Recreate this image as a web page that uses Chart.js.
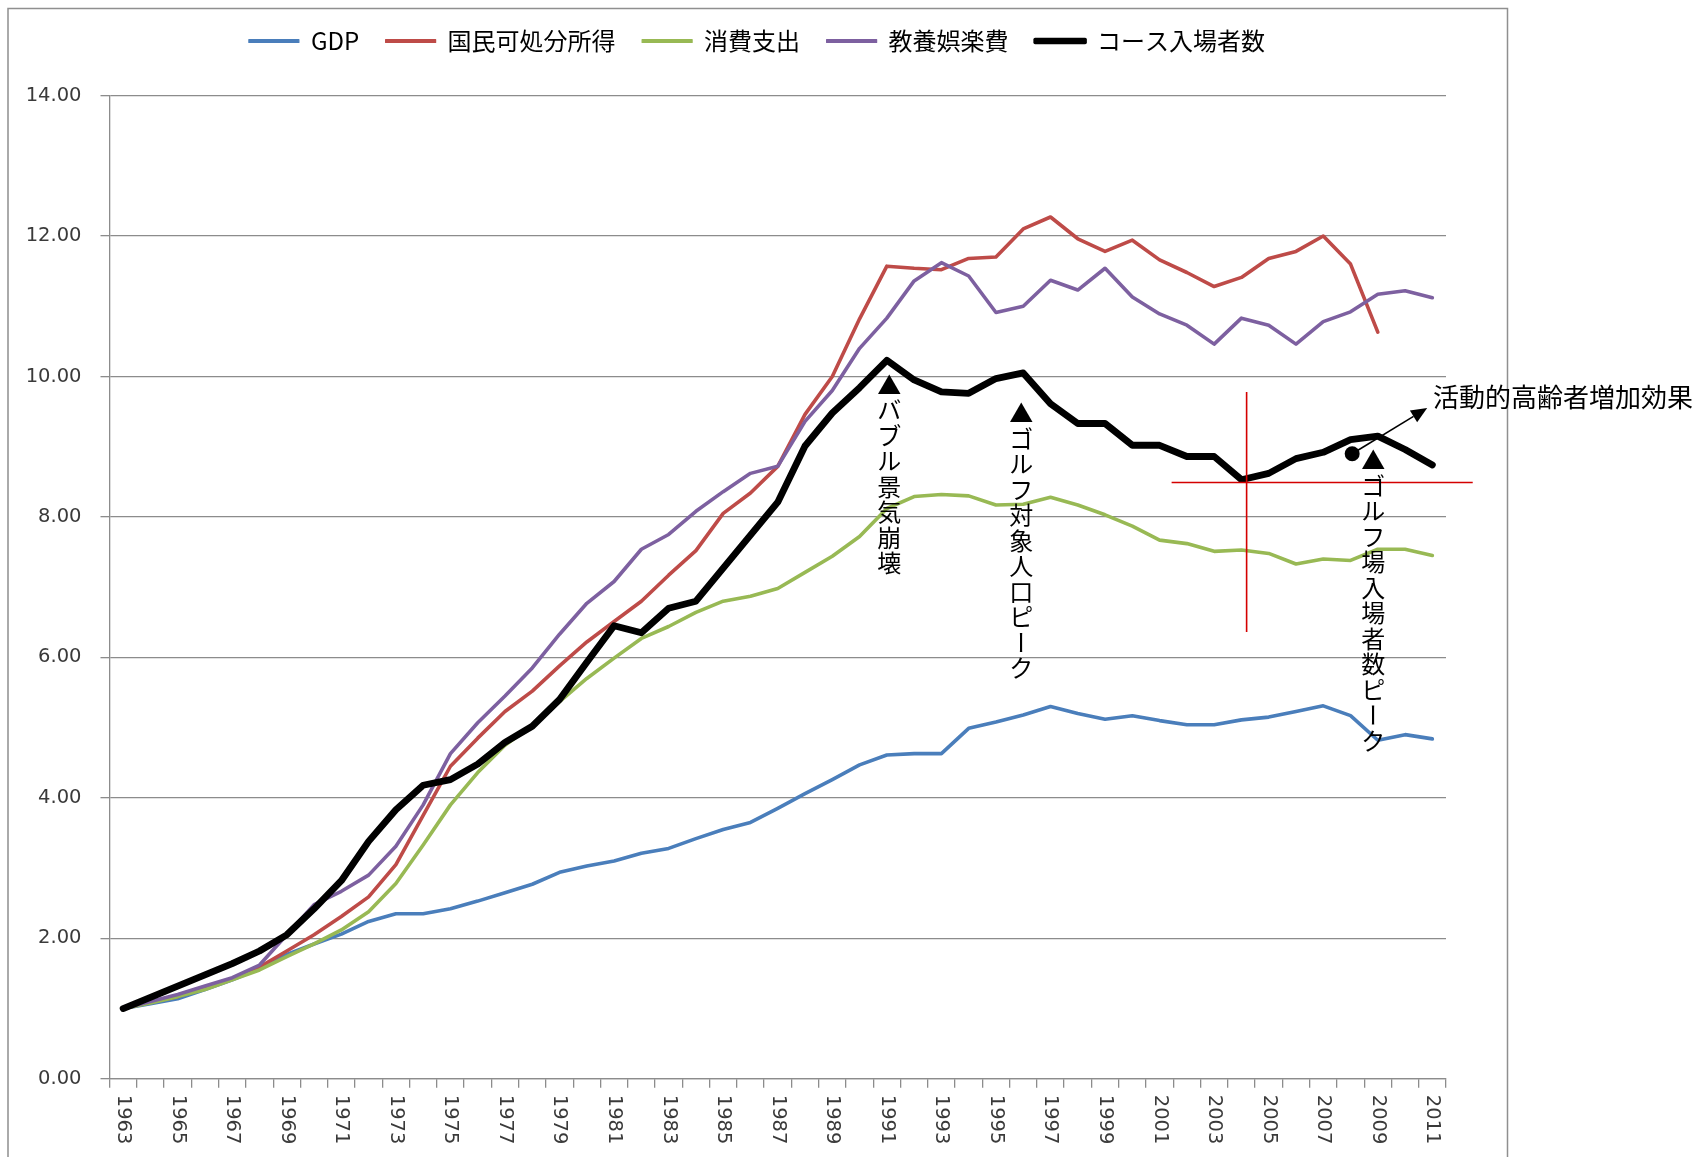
<!DOCTYPE html>
<html lang="ja">
<head>
<meta charset="utf-8">
<title>ゴルフ場入場者数と経済指標</title>
<script src="https://cdn.jsdelivr.net/npm/chart.js@4.4.1/dist/chart.umd.min.js"></script>
<style>
  html, body { margin: 0; padding: 0; background: #ffffff; overflow: hidden; }
  #wrap { width: 1700px; height: 1157px; position: relative; }
  canvas { display: block; }
</style>
</head>
<body>
<div id="wrap"><canvas id="c" width="1700" height="1157" style="width:1700px;height:1157px"></canvas></div>
<script>
// ---------------- data ----------------
const years = ['1963','1964','1965','1966','1967','1968','1969','1970','1971','1972','1973','1974','1975','1976','1977','1978','1979','1980','1981','1982','1983','1984','1985','1986','1987','1988','1989','1990','1991','1992','1993','1994','1995','1996','1997','1998','1999','2000','2001','2002','2003','2004','2005','2006','2007','2008','2009','2010','2011'];

const seriesNames = ['GDP', '国民可処分所得', '消費支出', '教養娯楽費', 'コース入場者数'];

const gdp = [1.00,1.07,1.14,1.27,1.41,1.57,1.77,1.92,2.06,2.24,2.35,2.35,2.42,2.53,2.65,2.77,2.94,3.03,3.10,3.21,3.28,3.42,3.55,3.65,3.85,4.06,4.26,4.47,4.61,4.63,4.63,4.99,5.08,5.18,5.30,5.20,5.12,5.17,5.10,5.04,5.04,5.11,5.15,5.23,5.31,5.17,4.82,4.90,4.84];

const disposableIncome = [1.00,1.09,1.17,1.29,1.43,1.59,1.82,2.05,2.31,2.59,3.05,3.75,4.45,4.85,5.23,5.52,5.88,6.22,6.51,6.80,7.17,7.52,8.05,8.34,8.72,9.46,10.00,10.82,11.57,11.54,11.52,11.68,11.70,12.10,12.27,11.96,11.78,11.94,11.66,11.48,11.28,11.41,11.68,11.78,12.00,11.60,10.63,null,null];

const consumption = [1.00,1.08,1.17,1.27,1.41,1.55,1.74,1.92,2.12,2.38,2.78,3.33,3.90,4.36,4.75,5.03,5.37,5.70,5.99,6.27,6.44,6.64,6.80,6.87,6.98,7.21,7.44,7.72,8.12,8.29,8.32,8.30,8.17,8.18,8.28,8.17,8.03,7.87,7.67,7.62,7.51,7.53,7.48,7.33,7.40,7.38,7.54,7.54,7.45];

const leisure = [1.00,1.10,1.20,1.32,1.44,1.62,2.05,2.48,2.67,2.90,3.31,3.90,4.63,5.07,5.45,5.85,6.33,6.77,7.08,7.54,7.75,8.08,8.36,8.62,8.72,9.36,9.80,10.40,10.83,11.36,11.62,11.43,10.91,11.00,11.37,11.23,11.54,11.13,10.89,10.73,10.46,10.83,10.73,10.46,10.78,10.92,11.17,11.22,11.12];

const golfVisitors = [1.00,1.16,1.32,1.48,1.64,1.82,2.05,2.42,2.82,3.38,3.83,4.18,4.26,4.48,4.79,5.02,5.40,5.93,6.45,6.35,6.70,6.80,7.27,7.74,8.21,9.01,9.48,9.84,10.23,9.95,9.78,9.76,9.97,10.05,9.61,9.33,9.33,9.02,9.02,8.86,8.86,8.53,8.62,8.83,8.92,9.10,9.15,8.96,8.74];

const yMin = 0, yMax = 14, yStep = 2;

const noteTexts = ['▲バブル景気崩壊', '▲ゴルフ対象人口ピーク', '▲ゴルフ場入場者数ピーク'];
const sideNote = '活動的高齢者増加効果';

// ---------------- styling / annotation placement ----------------
const seriesColors = ['#4A7EBB', '#BE4B48', '#98B954', '#7D60A0', '#000000'];
const seriesWidths = [3.6, 3.6, 3.6, 3.6, 6.8];
const seriesOrder  = [5, 4, 3, 2, 1];
const seriesValues = [gdp, disposableIncome, consumption, leisure, golfVisitors];

const CJK = "'Noto Sans CJK JP', 'Noto Sans', sans-serif";
const TICKFONT = "'DejaVu Sans', Verdana, sans-serif";
const GRID = '#8c8c8c';

const vNotes = [
  { text: noteTexts[0], cat: years.indexOf('1991'), dx: 2.5,  v: 9.88 },
  { text: noteTexts[1], cat: years.indexOf('1996'), dx: -2,   v: 9.48 },
  { text: noteTexts[2], cat: years.indexOf('2009'), dx: -4.5, v: 8.81 }
];

const annotations = {
  id: 'annotations',
  beforeDraw(chart) {
    const ctx = chart.ctx;
    ctx.save();
    ctx.fillStyle = '#ffffff';
    ctx.fillRect(0, 0, chart.width, chart.height);
    ctx.strokeStyle = '#8f8f8f';
    ctx.lineWidth = 1.5;
    ctx.strokeRect(8, 8.5, 1499.5, 1200);
    ctx.restore();
  },
  afterDraw(chart) {
    const ctx = chart.ctx;
    const xs = chart.scales.x, ys = chart.scales.y;

    // x-axis labels, rotated clockwise (read top to bottom), every other year
    ctx.save();
    ctx.fillStyle = '#3a3a3a';
    ctx.font = '19.5px ' + TICKFONT;
    ctx.textAlign = 'left';
    ctx.textBaseline = 'middle';
    const labelTop = xs.top + 16;
    years.forEach((yr, i) => {
      if (i % 2 !== 0) return;
      const x = xs.getPixelForValue(i);
      ctx.save();
      ctx.translate(x, labelTop);
      ctx.rotate(Math.PI / 2);
      ctx.fillText(yr, 0, 0);
      ctx.restore();
    });
    ctx.restore();

    // red cross lines
    ctx.save();
    ctx.strokeStyle = '#d40000';
    ctx.lineWidth = 1.6;
    const cx = xs.getPixelForValue(41.19);
    ctx.beginPath();
    ctx.moveTo(cx, ys.getPixelForValue(9.78));
    ctx.lineTo(cx, ys.getPixelForValue(6.36));
    const cy = ys.getPixelForValue(8.49);
    ctx.moveTo(xs.getPixelForValue(38.44), cy);
    ctx.lineTo(xs.getPixelForValue(49.48), cy);
    ctx.stroke();
    ctx.restore();

    // vertical notes
    ctx.save();
    ctx.fillStyle = '#000000';
    ctx.font = '24px ' + CJK;
    ctx.textAlign = 'center';
    ctx.textBaseline = 'middle';
    vNotes.forEach(n => {
      const x = xs.getPixelForValue(n.cat) + n.dx;
      let y = ys.getPixelForValue(n.v);
      for (const ch of n.text) {
        ctx.save();
        ctx.translate(x, y);
        if (ch === 'ー') ctx.rotate(Math.PI / 2);
        ctx.fillText(ch, 0, 0);
        ctx.restore();
        y += 25.5;
      }
    });
    ctx.restore();

    // dot + arrow + side note
    ctx.save();
    const p0 = { x: xs.getPixelForValue(45.06), y: ys.getPixelForValue(8.90) };
    const p1 = { x: xs.getPixelForValue(47.81), y: ys.getPixelForValue(9.55) };
    ctx.fillStyle = '#000';
    ctx.strokeStyle = '#000';
    ctx.beginPath();
    ctx.arc(p0.x, p0.y, 7.5, 0, Math.PI * 2);
    ctx.fill();
    const ang = Math.atan2(p1.y - p0.y, p1.x - p0.x);
    const headLen = 16, headW = 7;
    const bx = p1.x - headLen * Math.cos(ang), by = p1.y - headLen * Math.sin(ang);
    ctx.lineWidth = 1.6;
    ctx.beginPath();
    ctx.moveTo(p0.x, p0.y);
    ctx.lineTo(bx, by);
    ctx.stroke();
    ctx.beginPath();
    ctx.moveTo(p1.x, p1.y);
    ctx.lineTo(bx + headW * Math.sin(ang), by - headW * Math.cos(ang));
    ctx.lineTo(bx - headW * Math.sin(ang), by + headW * Math.cos(ang));
    ctx.closePath();
    ctx.fill();

    ctx.font = '26px ' + CJK;
    ctx.textAlign = 'left';
    ctx.textBaseline = 'middle';
    ctx.fillText(sideNote, chart.chartArea.right - 13, ys.getPixelForValue(9.70));
    ctx.restore();
  }
};

const datasets = seriesNames.map((name, i) => ({
  label: name,
  data: seriesValues[i],
  borderColor: seriesColors[i],
  backgroundColor: seriesColors[i],
  borderWidth: seriesWidths[i],
  order: seriesOrder[i],
  pointRadius: 0,
  pointHoverRadius: 0,
  tension: 0,
  borderJoinStyle: 'round',
  borderCapStyle: 'round',
  spanGaps: false,
  fill: false,
  yAxisID: 'y'
}));

new Chart(document.getElementById('c'), {
  type: 'line',
  data: { labels: years, datasets },
  options: {
    responsive: false,
    animation: false,
    devicePixelRatio: 1,
    events: [],
    layout: { padding: { left: 20, right: 206, top: 2.5, bottom: 0 } },
    plugins: {
      legend: {
        position: 'top',
        align: 'center',
        weight: 1000,
        labels: {
          font: { family: CJK, size: 24 },
          color: '#000000',
          boxWidth: 50,
          boxHeight: 3,
          padding: 26.5,
          generateLabels(chart) {
            return chart.data.datasets.map((ds, i) => ({
              text: ds.label,
              fillStyle: ds.borderColor,
              strokeStyle: ds.borderColor,
              lineWidth: i === 4 ? 3.5 : 1.2,
              lineJoin: 'round',
              lineCap: 'round',
              fontColor: '#000000',
              hidden: false,
              datasetIndex: i
            }));
          }
        }
      },
      // blank spacer between legend and plot area
      title: {
        display: true,
        text: ' ',
        position: 'top',
        weight: 500,
        font: { size: 10, lineHeight: 1 },
        padding: { top: 22.5, bottom: 0 }
      },
      tooltip: { enabled: false }
    },
    scales: {
      x: {
        type: 'category',
        offset: true,
        grid: { offset: true, drawOnChartArea: false, drawTicks: true, tickLength: 9, color: GRID, lineWidth: 1.3 },
        border: { color: GRID, width: 1.3 },
        ticks: { display: false, autoSkip: false },
        afterFit(s) { s.height = 78.2; }
      },
      y: {
        position: 'left',
        min: yMin,
        max: yMax,
        ticks: {
          stepSize: yStep,
          callback: v => Number(v).toFixed(2),
          font: { family: TICKFONT, size: 19.5 },
          color: '#3a3a3a',
          padding: 19
        },
        grid: { color: GRID, lineWidth: 1.3, tickLength: 9, drawTicks: true },
        border: { color: GRID, width: 1.3 },
        afterFit(s) { s.width = 89.5; }
      },
      // empty spacer on the right (keeps plot area width like the original)
      yRight: {
        position: 'right',
        display: true,
        min: yMin,
        max: yMax,
        grid: { display: false, drawOnChartArea: false },
        border: { display: false },
        ticks: { display: false },
        afterFit(s) { s.width = 48; }
      }
    }
  },
  plugins: [annotations]
});
</script>
</body>
</html>
